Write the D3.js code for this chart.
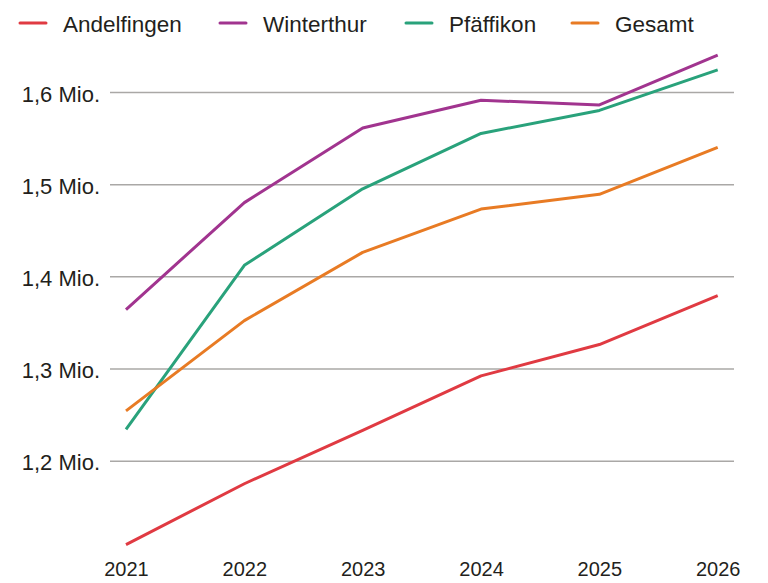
<!DOCTYPE html>
<html>
<head>
<meta charset="utf-8">
<script src="https://cdn.jsdelivr.net/npm/d3@7"></script>
<style>
  body { margin: 0; background: #fff; }
  text { font-family: "Liberation Sans", Arial, Helvetica, sans-serif; fill: #231f1c; }
</style>
</head>
<body>
<div id="chart"></div>
<script>
// data
const years = [2021, 2022, 2023, 2024, 2025, 2026]
const andelfingen = [1.109, 1.175, 1.233, 1.292, 1.326, 1.379]
const winterthur = [1.364, 1.480, 1.561, 1.591, 1.586, 1.640]
const pfaeffikon = [1.234, 1.412, 1.495, 1.555, 1.580, 1.624]
const gesamt = [1.254, 1.352, 1.426, 1.473, 1.489, 1.540]
const yTicks = [1.2, 1.3, 1.4, 1.5, 1.6]
const seriesNames = ["Andelfingen", "Winterthur", "Pfäffikon", "Gesamt"]
const colors = ["#e03a42", "#a1348f", "#29a27b", "#e87b24"]

const series = [andelfingen, winterthur, pfaeffikon, gesamt].map((vals, i) => ({
  name: seriesNames[i],
  color: colors[i],
  values: vals.map((v, j) => ({ year: years[j], value: v }))
}))

const W = 768, H = 583
const margin = {top: 92, right: 50, bottom: 0, left: 126}

const svg = d3.select("#chart")
  .append("svg")
    .attr("width", W)
    .attr("height", H)

// scales
const x = d3.scalePoint()
  .domain(years)
  .range([126, 717.7])

const y = d3.scaleLinear()
  .domain([1.2, 1.6])
  .range([460.7, 92])

// grid lines + y labels
svg.append("g")
  .attr("transform", "translate(734, 0)")
  .call(d3.axisLeft(y).tickValues(yTicks).tickSize(624).tickPadding(10)
    .tickFormat(d => d3.format(".1f")(d).replace(".", ",") + " Mio."))
  .call(g => g.select(".domain").remove())
  .call(g => g.selectAll(".tick line").attr("stroke", "#aaa8a6").attr("stroke-width", 1.5))
  .call(g => g.selectAll(".tick text")
    .style("font-size", "22px")
    .style("font-family", "'Liberation Sans', Arial, sans-serif")
    .attr("fill", "#231f1c")
    .attr("dy", "0.42em"))

// x labels
svg.append("g")
  .attr("transform", "translate(0, 562)")
  .call(d3.axisBottom(x).tickSize(0).tickPadding(0))
  .call(g => g.select(".domain").remove())
  .call(g => g.selectAll(".tick text")
    .style("font-size", "20px")
    .style("font-family", "'Liberation Sans', Arial, sans-serif")
    .attr("fill", "#231f1c")
    .attr("dy", "0.72em"))

// lines
const line = d3.line()
  .x(d => x(d.year))
  .y(d => y(d.value))

svg.append("g")
  .selectAll("path")
  .data(series)
  .join("path")
    .attr("d", d => line(d.values))
    .attr("fill", "none")
    .attr("stroke", d => d.color)
    .attr("stroke-width", 3)
    .attr("stroke-linejoin", "round")

// legend
const legendX = [20, 220, 406, 572]
const legend = svg.append("g")
  .selectAll("g")
  .data(series)
  .join("g")
    .attr("transform", (d, i) => `translate(${legendX[i]}, 23)`)

legend.append("line")
  .attr("x1", 0).attr("x2", 26)
  .attr("stroke", d => d.color)
  .attr("stroke-width", 3)
  .attr("stroke-linecap", "round")

legend.append("text")
  .attr("x", 43)
  .attr("y", 8.5)
  .style("font-size", "22.5px")
  .text(d => d.name)
</script>
</body>
</html>
